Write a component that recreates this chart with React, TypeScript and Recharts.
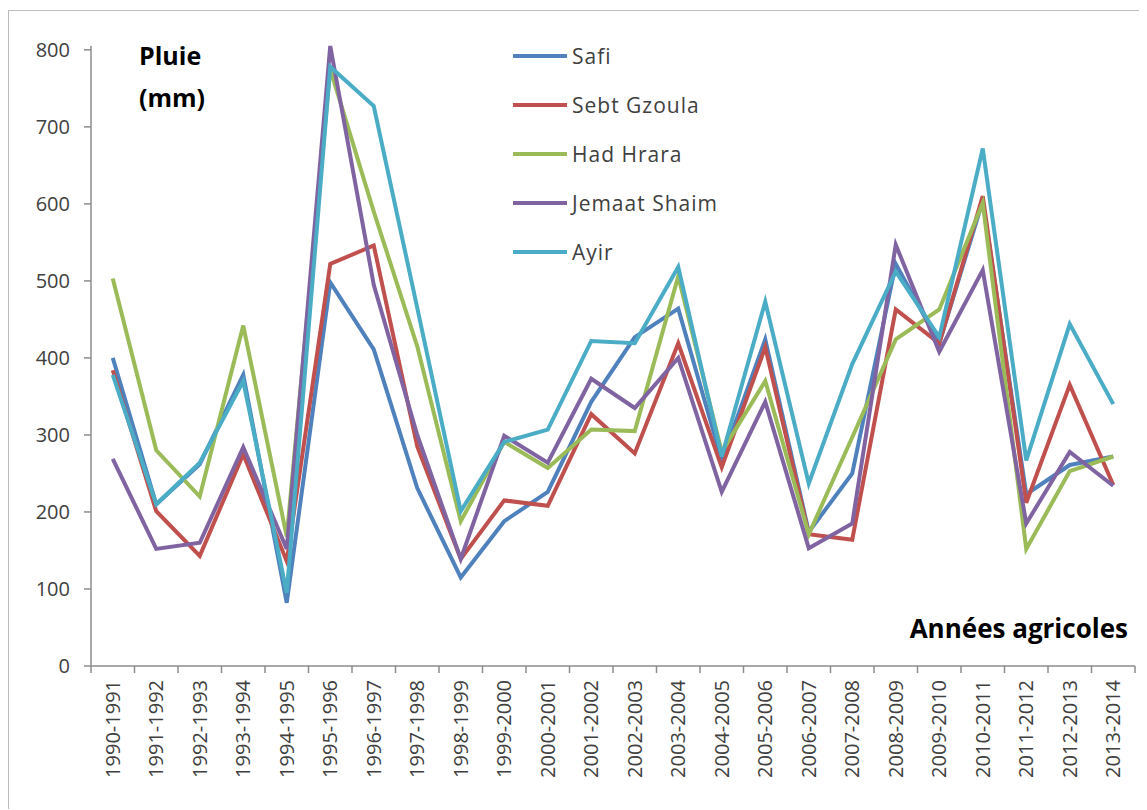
import React from 'react'
import { LineChart, Line, XAxis, YAxis } from 'recharts'

// agricultural years (x categories)
const years = [
  '1990-1991', '1991-1992', '1992-1993', '1993-1994', '1994-1995', '1995-1996',
  '1996-1997', '1997-1998', '1998-1999', '1999-2000', '2000-2001', '2001-2002',
  '2002-2003', '2003-2004', '2004-2005', '2005-2006', '2006-2007', '2007-2008',
  '2008-2009', '2009-2010', '2010-2011', '2011-2012', '2012-2013', '2013-2014',
]

// rainfall in mm
const safi = [400, 210, 262, 378, 82, 498, 411, 231, 115, 188, 226, 343, 427, 464, 267, 424, 174, 250, 522, 419, 604, 223, 261, 272]
const sebtGzoula = [384, 201, 143, 275, 136, 522, 546, 285, 139, 215, 208, 327, 276, 419, 258, 414, 171, 164, 463, 419, 610, 212, 365, 235]
const hadHrara = [503, 280, 220, 442, 168, 775, 590, 415, 188, 291, 257, 307, 305, 506, 278, 370, 171, 297, 424, 463, 601, 152, 253, 272]
const jemaatShaim = [269, 152, 160, 284, 152, 805, 495, 300, 139, 299, 264, 373, 335, 400, 226, 343, 153, 185, 547, 408, 514, 185, 278, 234]
const ayir = [378, 210, 264, 370, 95, 778, 727, 465, 201, 291, 307, 422, 419, 518, 272, 473, 237, 392, 512, 427, 672, 267, 444, 340]

const seriesNames = ['Safi', 'Sebt Gzoula', 'Had Hrara', 'Jemaat Shaim', 'Ayir']
const seriesValues = [safi, sebtGzoula, hadHrara, jemaatShaim, ayir]
const seriesColors = ['#4F81BD', '#C0504D', '#9BBB59', '#8064A2', '#4BACC6']

const yTicks = [0, 100, 200, 300, 400, 500, 600, 700, 800]

const data = years.map((year, i) => {
  const row: Record<string, string | number> = { year }
  seriesNames.forEach((name, s) => {
    row[name] = seriesValues[s][i]
  })
  return row
})

const AXIS_COLOR = '#8c8c8c'
const TEXT_COLOR = '#404040'
const TICK_SIZE = 7
const TICK_MARGIN = 7

// excel style: tick marks between categories, labels turned upright
const YearTick = (props: any) => {
  const { x, y, payload, index, width, visibleTicksCount } = props
  const half = width / visibleTicksCount / 2
  const axisY = y - TICK_SIZE - TICK_MARGIN
  return (
    <g>
      <line x1={x - half} x2={x - half} y1={axisY} y2={axisY + TICK_SIZE} stroke={AXIS_COLOR} strokeWidth={1.5} />
      {index === visibleTicksCount - 1 && (
        <line x1={x + half} x2={x + half} y1={axisY} y2={axisY + TICK_SIZE} stroke={AXIS_COLOR} strokeWidth={1.5} />
      )}
      <text
        x={x}
        y={y}
        transform={`rotate(-90 ${x} ${y})`}
        textAnchor="end"
        dy="0.35em"
        fontSize={20}
        fill={TEXT_COLOR}
      >
        {payload.value}
      </text>
    </g>
  )
}

// legend drawn inside the plot, like the excel original
const SeriesLegend = () => (
  <div style={{ position: 'absolute', left: 504, top: 20 }}>
    {seriesNames.map((name, s) => (
      <div key={name} style={{ display: 'flex', alignItems: 'center', height: 49 }}>
        <div style={{ width: 54, height: 4, background: seriesColors[s], marginRight: 5 }} />
        <span style={{ fontSize: 21, color: TEXT_COLOR, letterSpacing: 1 }}>{name}</span>
      </div>
    ))}
  </div>
)

const RainfallChart: React.FC = () => (
  <div
    style={{
      position: 'relative',
      marginTop: 2,
      width: 1130,
      height: 798,
      borderTop: '1px solid #bcbcbc',
      borderLeft: '1px solid #bcbcbc',
      fontFamily: '"Open Sans", sans-serif',
      background: '#fff',
    }}
  >
    <LineChart width={1130} height={798} data={data} margin={{ top: 35, right: 4, left: 0, bottom: 23 }}>
      <XAxis
        dataKey="year"
        scale="band"
        interval={0}
        height={120}
        stroke={AXIS_COLOR}
        strokeWidth={1.5}
        tickLine={false}
        tickSize={TICK_SIZE}
        tickMargin={TICK_MARGIN}
        tick={<YearTick />}
      />
      <YAxis
        domain={[0, 800]}
        ticks={yTicks}
        width={82}
        stroke={AXIS_COLOR}
        strokeWidth={1.5}
        tickSize={TICK_SIZE}
        tickMargin={14}
        tick={{ fontSize: 20, fill: TEXT_COLOR }}
      />
      {seriesNames.map((name, s) => (
        <Line
          key={name}
          type="linear"
          dataKey={name}
          stroke={seriesColors[s]}
          strokeWidth={4}
          dot={false}
          activeDot={false}
          isAnimationActive={false}
        />
      ))}
    </LineChart>
    <SeriesLegend />
    <div
      style={{
        position: 'absolute',
        left: 130,
        top: 23,
        fontSize: 25,
        fontWeight: 700,
        lineHeight: '42px',
        color: '#000',
      }}
    >
      Pluie
      <br />
      (mm)
    </div>
    <div
      style={{
        position: 'absolute',
        right: 11,
        top: 602,
        fontSize: 26,
        fontWeight: 700,
        lineHeight: '30px',
        color: '#000',
      }}
    >
      Années agricoles
    </div>
  </div>
)

export default function App() {
  return <RainfallChart />
}
